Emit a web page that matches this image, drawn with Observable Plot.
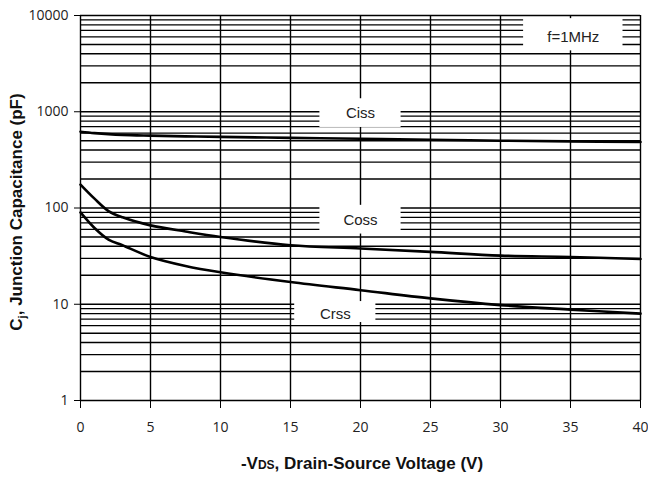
<!DOCTYPE html>
<html><head><meta charset="utf-8">
<script src="https://cdn.jsdelivr.net/npm/d3@7"></script>
<script src="https://cdn.jsdelivr.net/npm/@observablehq/plot@0.6"></script>
<style>
html,body{margin:0;padding:0;background:#fff;}
</style>
</head><body>
<div id="chart"></div>
<script>
// Data
const vds = [0, 1, 2, 3, 5, 7.5, 10, 15, 20, 25, 30, 35, 40];
const ciss = [620, 600, 585, 575, 565, 555, 548, 535, 525, 512, 500, 492, 485];
const coss = [175, 125, 93, 80, 66, 57, 50, 41, 38, 35, 32, 31, 29.5];
const crss = [90, 62, 47, 41, 31, 25, 21.5, 17, 14, 11.5, 9.8, 8.8, 8];
const xTicks = [0, 5, 10, 15, 20, 25, 30, 35, 40];
const yTicks = [1, 10, 100, 1000, 10000];
const yTickLabels = ["1", "10", "100", "1000", "10000"];
const curveNames = ["Ciss", "Coss", "Crss"];
const labelNames = ["Ciss", "Coss", "Crss", "f=1MHz"];
const labelX = [20, 20, 18.2, 35.2];
const labelY = [968, 75.6, 8.3, 6310];
const textY = [955, 75, 7.8, 5950];

const rows = [];
[ciss, coss, crss].forEach((s, k) => s.forEach((v, i) => rows.push({name: curveNames[k], x: vds[i], y: v})));
const labels = labelNames.map((n, i) => ({name: n, x: labelX[i], y: labelY[i], ty: textY[i]}));
// minor grid (1..9 per decade)
const yGrid = [];
for (let d = 1; d < 10000; d *= 10) for (let m = 1; m < 10; m++) yGrid.push(d * m);
yGrid.push(10000);

const boxW = [2.9, 2.9, 2.9, 3.55];   // half width in x units
const boxF = [1.41, 1.41, 1.285, 1.47];  // multiplicative half height

const font = "'Liberation Sans Narrow', 'Liberation Sans', Arial, sans-serif";

const chart = Plot.plot({
  width: 648, height: 477,
  marginLeft: 80, marginRight: 8, marginTop: 15, marginBottom: 77,
  style: {background: "#fff", fontFamily: "'Open Sans', sans-serif"},
  x: {domain: [0, 40], ticks: xTicks, label: null},
  y: {type: "log", domain: [1, 10000], ticks: yTicks, label: null},
  marks: [
    Plot.ruleY(yGrid, {stroke: "#000", strokeWidth: 1.4}),
    Plot.ruleX(xTicks, {stroke: "#000", strokeWidth: 1.4}),
    Plot.rect(labels, {
      x1: (d, i) => d.x - boxW[i], x2: (d, i) => d.x + boxW[i],
      y1: (d, i) => d.y / boxF[i], y2: (d, i) => d.y * boxF[i],
      fill: "#fff"
    }),
    Plot.line(rows, {x: "x", y: "y", z: "name", stroke: "#000", strokeWidth: 2.6, curve: "catmull-rom"}),
    Plot.axisX({ticks: xTicks, tickSize: 8, tickPadding: 14, fontSize: 14, stroke: "#000", label: null}),
    Plot.axisY({ticks: yTicks, tickSize: 6, tickPadding: 6, fontSize: 14, tickFormat: (d) => yTickLabels[yTicks.indexOf(d)], label: null}),
    Plot.text(labels, {x: "x", y: "ty", text: "name", fontSize: 15, fontFamily: font, fill: "#222"})
  ]
});
document.getElementById("chart").appendChild(chart);

const svg = d3.select(chart);
svg.selectAll("[aria-label='x-axis tick label'] text, [aria-label='y-axis tick label'] text").attr("fill", "#222");
// axis titles
const xt = svg.append("text")
  .attr("x", 362).attr("y", 469).attr("text-anchor", "middle")
  .attr("font-family", font).attr("font-weight", "bold").attr("font-size", 17).attr("fill", "#111");
xt.append("tspan").text("-V");
xt.append("tspan").attr("font-size", 12).text("DS");
xt.append("tspan").text(", Drain-Source Voltage (V)");

const yt = svg.append("text")
  .attr("transform", "translate(22,212) rotate(-90)").attr("text-anchor", "middle")
  .attr("font-family", font).attr("font-weight", "bold").attr("font-size", 17).attr("fill", "#111");
yt.append("tspan").text("C");
yt.append("tspan").attr("font-size", 11).attr("dy", 4).text("j");
yt.append("tspan").attr("dy", -4).text(", Junction Capacitance (pF)");
</script>
</body></html>
